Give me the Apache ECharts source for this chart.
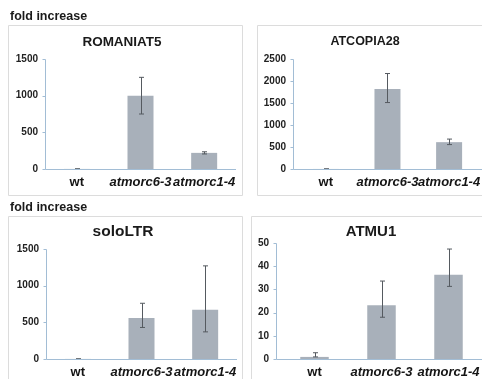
<!DOCTYPE html>
<html>
<head>
<meta charset="utf-8">
<script src="https://cdn.jsdelivr.net/npm/echarts@6/dist/echarts.min.js"></script>
<style>
  html, body { margin: 0; padding: 0; background: #ffffff; }
  #chart { width: 482px; height: 379px; }
</style>
</head>
<body>
<div id="chart"></div>
<script>
// Genotypes shown on every panel
const categories = ['wt', 'atmorc6-3', 'atmorc1-4'];

// Fold increase (mean) and error bar ends for each transposon
const romaniat5     = [1, 1000, 220];
const romaniat5Low  = [1, 750, 205];
const romaniat5High = [1, 1250, 235];

const atcopia28     = [1, 1820, 610];
const atcopia28Low  = [1, 1510, 555];
const atcopia28High = [1, 2170, 680];

const soloLTR       = [1, 560, 670];
const soloLTRLow    = [1, 430, 370];
const soloLTRHigh   = [1, 760, 1270];

const atmu1         = [0.9, 23.2, 36.3];
const atmu1Low      = [0.9, 18, 31.3];
const atmu1High     = [2.7, 33.6, 47.4];

// Y axis ranges
const yMax      = [1500, 2500, 1500, 50];
const yInterval = [500, 500, 500, 10];

const titles = ['ROMANIAT5', 'ATCOPIA28', 'soloLTR', 'ATMU1'];

const FONT = '"Liberation Sans", Arial, sans-serif';
const AXIS_COLOR = '#a2bdd5';
const BAR_COLOR = '#a8b0ba';
const ERR_COLOR = '#555a60';

const panels = [
  { title: titles[0], values: romaniat5, low: romaniat5Low, high: romaniat5High, max: yMax[0], interval: yInterval[0],
    grid: { left: 45, top: 59, width: 191, height: 110 }, offset: 0, barWidth: 26, titleXY: [122, 42], titleSize: 13.5 },
  { title: titles[1], values: atcopia28, low: atcopia28Low, high: atcopia28High, max: yMax[1], interval: yInterval[1],
    grid: { left: 295, top: 59, width: 192, height: 110 }, offset: 2, barWidth: 26, titleXY: [365, 42], titleSize: 12.5 },
  { title: titles[2], values: soloLTR, low: soloLTRLow, high: soloLTRHigh, max: yMax[2], interval: yInterval[2],
    grid: { left: 46, top: 249, width: 191, height: 110 }, offset: 0, barWidth: 26, titleXY: [123, 232], titleSize: 15.5 },
  { title: titles[3], values: atmu1, low: atmu1Low, high: atmu1High, max: yMax[3], interval: yInterval[3],
    grid: { left: 281, top: 243, width: 207, height: 117 }, offset: 5, barWidth: 28.5, titleXY: [371, 232], titleSize: 15 }
];

function errorRenderer(params, api) {
  const x = api.value(0);
  const lo = api.coord([x, api.value(1)]);
  const hi = api.coord([x, api.value(2)]);
  const cx = Math.round(lo[0]) + 0.5;
  const w = 2.5;
  const style = { stroke: ERR_COLOR, lineWidth: 1 };
  return {
    type: 'group',
    children: [
      { type: 'line', shape: { x1: cx, y1: hi[1], x2: cx, y2: lo[1] }, style },
      { type: 'line', shape: { x1: cx - w, y1: hi[1], x2: cx + w, y2: hi[1] }, style },
      { type: 'line', shape: { x1: cx - w, y1: lo[1], x2: cx + w, y2: lo[1] }, style }
    ]
  };
}

const grid = [], xAxis = [], yAxis = [], series = [];

panels.forEach((p, i) => {
  grid.push(Object.assign({}, p.grid));
  xAxis.push({
    type: 'category', gridIndex: i, data: categories,
    axisLine: { show: false },
    axisTick: { show: false },
    axisLabel: {
      margin: 7, interval: 0,
      formatter: v => v === 'wt' ? '{n|' + v + '}' : '{i|' + v + '}',
      rich: {
        n: { fontFamily: FONT, fontSize: 13, fontWeight: 'bold', color: '#151515' },
        i: { fontFamily: FONT, fontSize: 13, fontWeight: 'bold', fontStyle: 'italic', color: '#151515' }
      }
    }
  });
  yAxis.push({
    type: 'value', gridIndex: i, min: 0, max: p.max, interval: p.interval, offset: p.offset,
    axisLine: { show: false },
    axisTick: { show: false },
    splitLine: { show: false },
    axisLabel: { margin: 7, fontFamily: FONT, fontSize: 10, fontWeight: 'bold', color: '#222',
                 formatter: v => String(v) }
  });
  series.push({
    type: 'bar', xAxisIndex: i, yAxisIndex: i, data: p.values,
    barWidth: p.barWidth, itemStyle: { color: BAR_COLOR }, silent: true
  });
  series.push({
    type: 'custom', xAxisIndex: i, yAxisIndex: i, z: 5, silent: true,
    data: p.values.map((_, k) => [k, p.low[k], p.high[k]]),
    encode: { x: 0, y: [1, 2] },
    renderItem: errorRenderer
  });
});

const chart = echarts.init(document.getElementById('chart'));
chart.setOption({
  animation: false,
  backgroundColor: '#ffffff',
  grid, xAxis, yAxis, series
});

// Panel frames, captions, titles and axis lines (positioned through each axis scale)
const graphic = [];
const frames = [
  [8, 25, 234, 170], [257, 25, 240, 170], [8, 216, 234, 180], [251, 216, 240, 180]
];
frames.forEach(f => graphic.push({
  type: 'rect', shape: { x: f[0] + 0.5, y: f[1] + 0.5, width: f[2], height: f[3] }, silent: true, z: 0,
  style: { fill: 'none', stroke: '#dcdcdc', lineWidth: 1 }
}));
[[10, 17], [10, 208]].forEach(pos => graphic.push({
  type: 'text', x: pos[0], y: pos[1], silent: true,
  style: { text: 'fold increase', fontFamily: FONT, fontSize: 12.5, fontWeight: 'bold', fill: '#1a1a1a',
           textAlign: 'left', textVerticalAlign: 'middle' }
}));

panels.forEach((p, i) => {
  graphic.push({
    type: 'text', x: p.titleXY[0], y: p.titleXY[1], silent: true,
    style: { text: p.title, fontFamily: FONT, fontSize: p.titleSize, fontWeight: 'bold', fill: '#1a1a1a',
             textAlign: 'center', textVerticalAlign: 'middle' }
  });
  const ax = Math.round(p.grid.left - p.offset) + 0.5;
  const yTop = Math.round(chart.convertToPixel({ yAxisIndex: i }, p.max)) + 0.5;
  const yZero = Math.round(chart.convertToPixel({ yAxisIndex: i }, 0)) + 0.5;
  const xRight = p.grid.left + p.grid.width;
  const lineStyle = { stroke: AXIS_COLOR, lineWidth: 1 };
  graphic.push({ type: 'line', silent: true, z: 10, shape: { x1: ax, y1: yTop, x2: ax, y2: yZero }, style: lineStyle });
  graphic.push({ type: 'line', silent: true, z: 10, shape: { x1: ax, y1: yZero, x2: xRight, y2: yZero }, style: lineStyle });
  for (let v = 0; v <= p.max; v += p.interval) {
    const ty = Math.round(chart.convertToPixel({ yAxisIndex: i }, v)) + 0.5;
    graphic.push({ type: 'line', silent: true, z: 10, shape: { x1: ax - 3, y1: ty, x2: ax, y2: ty },
                   style: { stroke: AXIS_COLOR, lineWidth: 1 } });
  }
});

chart.setOption({ graphic });
</script>
</body>
</html>
